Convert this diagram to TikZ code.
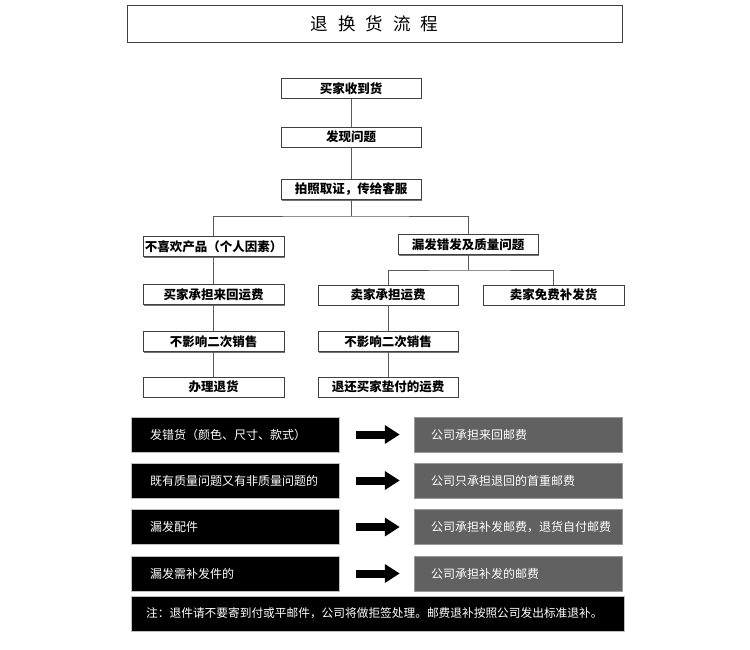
\documentclass[tikz,border=0pt]{standalone}
\usepackage{fontspec}
\setmainfont{Noto Sans CJK SC}
\usetikzlibrary{arrows.meta,shadows}
\begin{document}
\begin{tikzpicture}[x=1pt,y=-1pt,
  fbox/.style={draw=black!75,line width=0.7pt,fill=white,minimum width=140pt,minimum height=20pt,
    inner sep=0pt,font=\fontsize{12.5pt}{14pt}\selectfont\bfseries,
    drop shadow={shadow xshift=1pt,shadow yshift=-1pt,fill=black!55,opacity=1}},
  conn/.style={draw=black!65,line width=0.8pt},
  kbox/.style={fill=black,draw=black!25,line width=0.5pt,minimum width=208pt,minimum height=35pt,
    inner sep=0pt},
  gbox/.style={fill=black!62,draw=black!40,line width=0.5pt,minimum width=208pt,minimum height=35pt,
    inner sep=0pt},
  wtext/.style={anchor=west,inner sep=0pt,text=white,font=\fontsize{12pt}{14pt}\selectfont},
  bigarrow/.style={line width=8pt,-{Triangle[length=15pt,width=18pt]}}
]
\useasboundingbox (0,0) rectangle (750,650);
\fill[white] (0,0) rectangle (750,650);
% title
\node[draw=black!75,line width=0.8pt,minimum width=495pt,minimum height=37pt,inner sep=0pt,
  font=\fontsize{17.5pt}{20pt}\selectfont] (title) at (374.5,23.5)
  {退\hspace{10pt}换\hspace{10pt}货\hspace{10pt}流\hspace{10pt}程};
% flow
\node[fbox] (b1) at (351,88.5) {买家收到货};
\node[fbox] (b2) at (351,137) {发现问题};
\node[fbox] (b3) at (351,189.5) {拍照取证，传给客服};
\node[fbox,minimum width=141pt] (l1) at (213.5,246.5) {不喜欢产品（个人因素）};
\node[fbox] (r1) at (468,244.5) {漏发错发及质量问题};
\node[fbox,minimum width=141pt] (l2) at (213.5,294.5) {买家承担来回运费};
\node[fbox,minimum width=141pt] (l3) at (213.5,341.5) {不影响二次销售};
\node[fbox,minimum width=141pt] (l4) at (213.5,387) {办理退货};
\node[fbox] (ra) at (388,295) {卖家承担运费};
\node[fbox,minimum width=141pt] (rb) at (553.5,295) {卖家免费补发货};
\node[fbox] (r3) at (388,341.5) {不影响二次销售};
\node[fbox] (r4) at (388,387) {退还买家垫付的运费};
\coordinate (s1) at (351,216);
\coordinate (s2) at (468,270);
\draw[conn] (b1) -- (b2);
\draw[conn] (b2) -- (b3);
\draw[conn] (b3) -- (s1);
\draw[conn] (l1.north) |- (s1) -| (r1.north);
\draw[conn] (l1) -- (l2);
\draw[conn] (l2) -- (l3);
\draw[conn] (l3) -- (l4);
\draw[conn] (r1) -- (s2);
\draw[conn] (ra.north) |- (s2) -| (rb.north);
\draw[conn] (ra) -- (r3);
\draw[conn] (r3) -- (r4);
% bottom table
\foreach \i/\y/\a/\b in {1/434.5/{发错货（颜色、尺寸、款式）}/{公司承担来回邮费},
                         2/480.5/{既有质量问题又有非质量问题的}/{公司只承担退回的首重邮费},
                         3/527/{漏发配件}/{公司承担补发邮费，退货自付邮费},
                         4/573.5/{漏发需补发件的}/{公司承担补发的邮费}}{
  \node[kbox] (k\i) at (235,\y) {};
  \node[wtext] (kt\i) at (150,\y) {\a};
  \node[gbox] (g\i) at (518,\y) {};
  \node[wtext] (gt\i) at (431,\y) {\b};
  \draw[bigarrow] ([xshift=17pt]k\i.east) -- ([xshift=-14pt]g\i.west);
}
\node[fill=black,draw=black!25,line width=0.5pt,minimum width=493pt,minimum height=35pt,inner sep=0pt] (note) at (377.5,613.5) {};
\node[wtext,font=\fontsize{11.7pt}{14pt}\selectfont] (notet) at (146,613.5)
  {注：退件请不要寄到付或平邮件，公司将做拒签处理。邮费退补按照公司发出标准退补。};
\end{tikzpicture}
\end{document}
